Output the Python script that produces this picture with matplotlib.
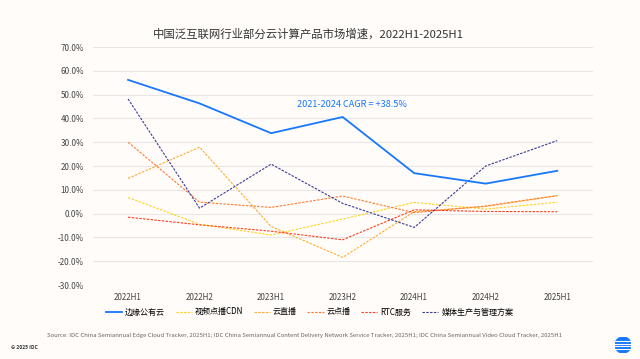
import matplotlib
matplotlib.use("Agg")
import matplotlib.pyplot as plt
import numpy as np

plt.rcParams['font.family'] = ['Noto Sans CJK SC', 'DejaVu Sans']

periods = ["2022H1", "2022H2", "2023H1", "2023H2", "2024H1", "2024H2", "2025H1"]
edge_cloud = [56.2, 46.3, 33.8, 40.6, 17.0, 12.6, 18.0]
video_cdn = [6.8, -4.5, -9.0, -2.3, 4.7, 1.9, 4.8]
cloud_live = [14.8, 27.9, -5.4, -18.4, 0.8, 3.0, 7.5]
cloud_vod = [30.0, 4.8, 2.6, 7.4, 0.4, 3.2, 7.6]
rtc = [-1.5, -4.7, -7.4, -11.0, 1.6, 0.9, 0.8]
media = [48.2, 2.3, 20.8, 4.3, -5.8, 20.0, 30.7]

names = ["边缘公有云", "视频点播CDN", "云直播", "云点播", "RTC服务", "媒体生产与管理方案"]
colors = ["#1677ff", "#ffd21f", "#ffab2e", "#ff7a30", "#ff3d1f", "#3b3b9a"]
series = [edge_cloud, video_cdn, cloud_live, cloud_vod, rtc, media]

bg = "#fffcf9"
fig = plt.figure(figsize=(6.4, 3.59), dpi=100, facecolor=bg)
ax = fig.add_axes([0.1453, 0.2061, 0.7813, 0.6629])
ax.set_facecolor(bg)

x = np.arange(len(periods))
for i, (vals, name, c) in enumerate(zip(series, names, colors)):
    if i == 0:
        ax.plot(x, vals, color=c, lw=1.3, label=name, zorder=5)
    else:
        ax.plot(x, vals, color=c, lw=0.8, ls=(0, (2.2, 1.2)), label=name, zorder=4)

ax.set_ylim(-30, 70)
ax.set_xlim(-0.49, 6.5)
ax.set_yticks(np.arange(-30, 71, 10))
ax.set_yticklabels([f"{v:.1f}%" for v in np.arange(-30, 71, 10)], fontsize=5.8, color="#444444")
ax.set_xticks(x)
ax.set_xticklabels(periods, fontsize=5.8, color="#444444")
ax.tick_params(length=0, pad=6)
ax.yaxis.set_tick_params(pad=6.5)
ax.grid(axis="y", color="#e8e6e4", lw=0.8)
ax.set_axisbelow(True)
for s in ax.spines.values():
    s.set_visible(False)

ax.text(3.13, 46, "2021-2024 CAGR = +38.5%", color="#1677ff", fontsize=6.6, ha="center", va="center")

fig.text(0.482, 0.905, "中国泛互联网行业部分云计算产品市场增速，2022H1-2025H1",
         ha="center", va="center", fontsize=8.2, color="#333333")

fig.legend(loc="center", bbox_to_anchor=(0.4836, 0.131), ncol=6, frameon=False,
           fontsize=5.8, handlelength=2.0, handletextpad=0.4, columnspacing=1.3)

fig.text(0.476, 0.066,
         "Source: IDC China Semiannual Edge Cloud Tracker, 2025H1; IDC China Semiannual Content Delivery Network Service Tracker, 2025H1; IDC China Semiannual Video Cloud Tracker, 2025H1",
         ha="center", va="center", fontsize=4.3, color="#666666")
fig.text(0.017, 0.031, "© 2025 IDC", ha="left", va="center", fontsize=3.6, color="#333333", fontweight="bold")

# IDC logo
lax = fig.add_axes([0.961, 0.0167, 0.025, 0.0446])
lax.set_xlim(-1, 1)
lax.set_ylim(-1, 1)
lax.set_aspect("equal")
lax.axis("off")
circ = plt.Circle((0, 0), 1, color="#1677ff")
lax.add_patch(circ)
for yy in [-0.55, -0.18, 0.18, 0.55]:
    lax.axhline(yy, color=bg, lw=0.8)

fig.savefig("out.png", dpi=100, facecolor=bg)
